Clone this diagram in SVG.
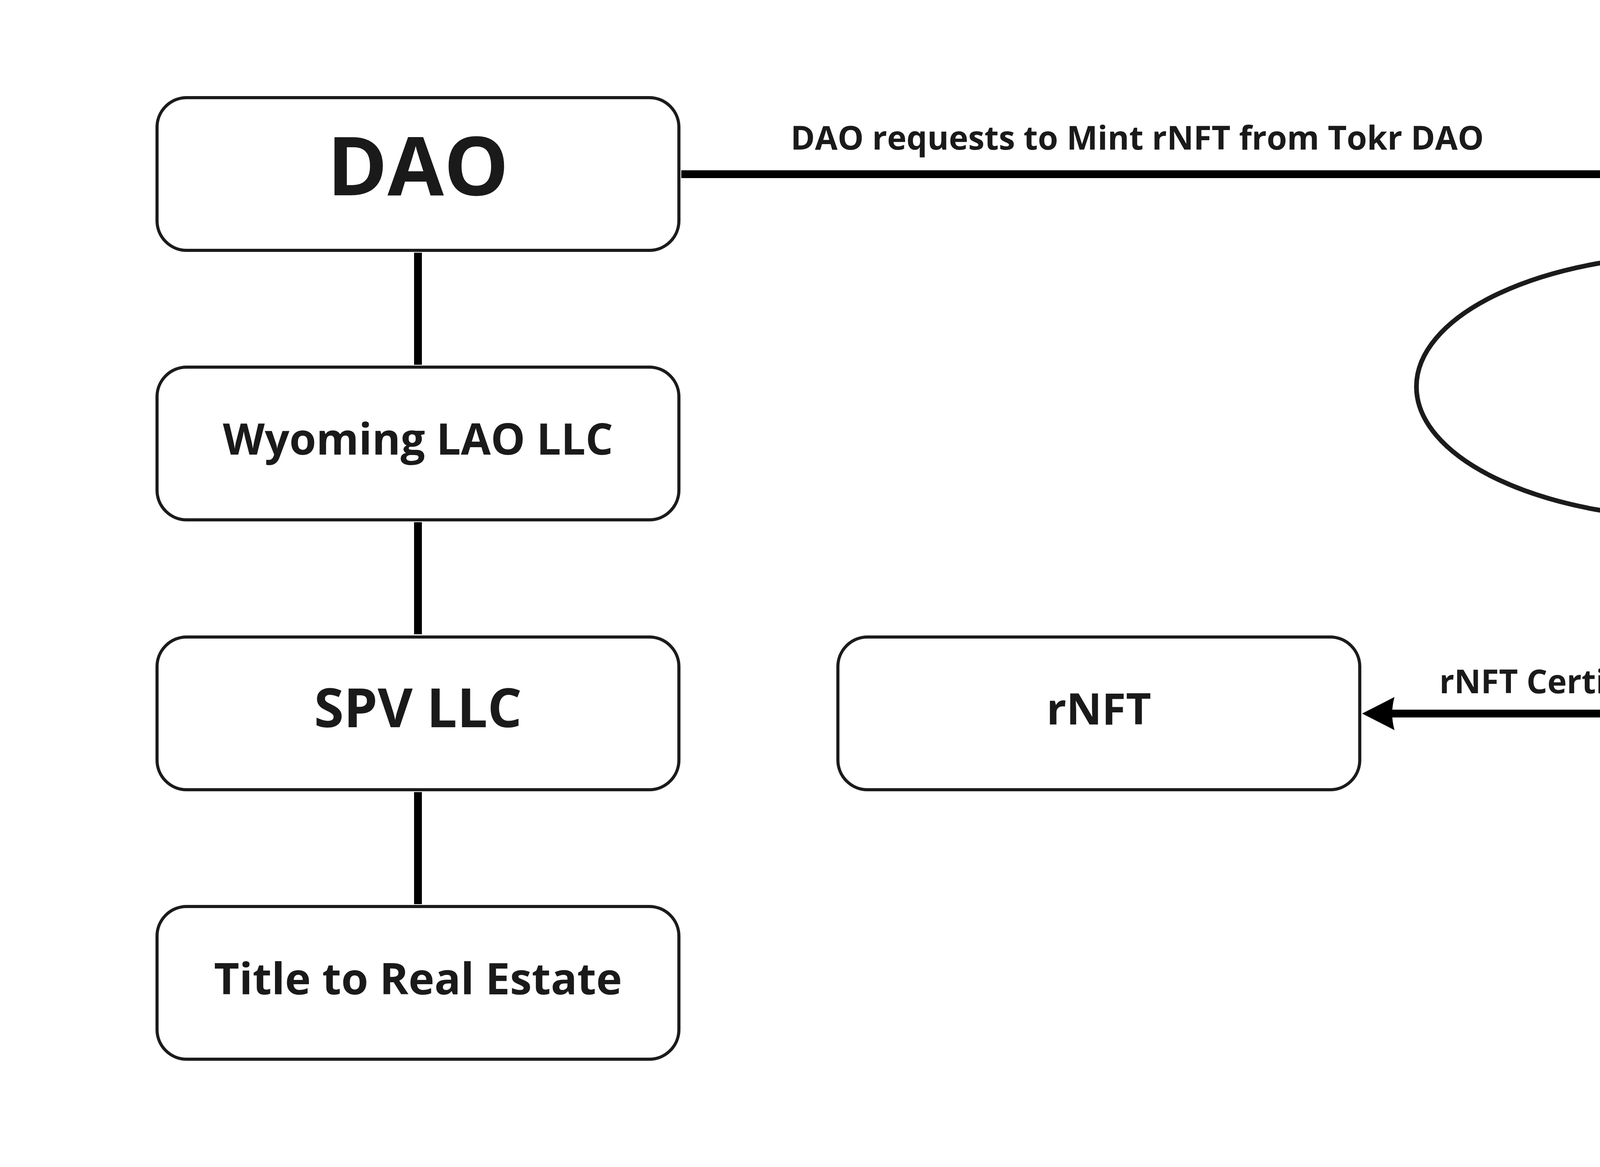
<svg xmlns="http://www.w3.org/2000/svg" width="5353" height="2988" viewBox="0 0 5353 2988">
<style>
.box{fill:#fff;stroke:#1b1b1b;stroke-width:8}
.ell{fill:#fff;stroke:#1b1b1b;stroke-width:12}
.t{font-family:"Open Sans","Noto Sans","Liberation Sans",sans-serif;font-weight:700;fill:#1a1a1a;text-anchor:middle}
.lbl{font-family:"Open Sans","Noto Sans","Liberation Sans",sans-serif;font-weight:700;fill:#1a1a1a;font-size:84px}
.c{fill:none;stroke:#000;stroke-width:20;stroke-linejoin:round}
</style>
<defs>
<marker id="arr" viewBox="0 0 83 85" markerWidth="83" markerHeight="85" markerUnits="userSpaceOnUse" refX="12" refY="42.5" orient="auto">
<path d="M0,0 L83,42.5 L0,85 Q12,42.5 0,0 Z" fill="#000"/>
</marker>
</defs>
<rect width="5353" height="2988" fill="#fff"/>
<g id="connectors">
<path class="c" d="M1070,647 V934"/>
<path class="c" d="M1070,1337 V1624"/>
<path class="c" d="M1070,2028 V2315"/>
<path class="c" d="M1744,446 H4350 V574" marker-end="url(#arr)"/>
<path class="c" d="M4350,1337 V1827 H3558" marker-end="url(#arr)"/>
<text class="lbl" x="2024" y="383">DAO requests to Mint rNFT from Tokr DAO</text>
<text class="lbl" x="4272" y="1775" text-anchor="end">rNFT Certified</text>
</g>
<g id="dao">
<rect class="box" x="402" y="250" width="1336" height="391" rx="76"/>
<text class="t" x="1070" y="500" font-size="209">DAO</text>
</g>
<g id="wyoming">
<rect class="box" x="402" y="940" width="1336" height="391" rx="76"/>
<text class="t" x="1070" y="1164" font-size="111">Wyoming LAO LLC</text>
</g>
<g id="spv">
<rect class="box" x="402" y="1631" width="1336" height="391" rx="76"/>
<text class="t" x="1070" y="1862" font-size="138">SPV LLC</text>
</g>
<g id="title">
<rect class="box" x="402" y="2321" width="1336" height="391" rx="76"/>
<text class="t" x="1070" y="2546" font-size="112">Title to Real Estate</text>
</g>
<g id="tokrizer">
<ellipse class="ell" cx="4350" cy="990" rx="724" ry="338"/>
<text class="t" x="4350" y="1021" font-size="112">Tokrizer</text>
</g>
<g id="rnft">
<rect class="box" x="2145" y="1631" width="1336" height="391" rx="76"/>
<text class="t" x="2813" y="1855" font-size="112">rNFT</text>
</g>
</svg>
